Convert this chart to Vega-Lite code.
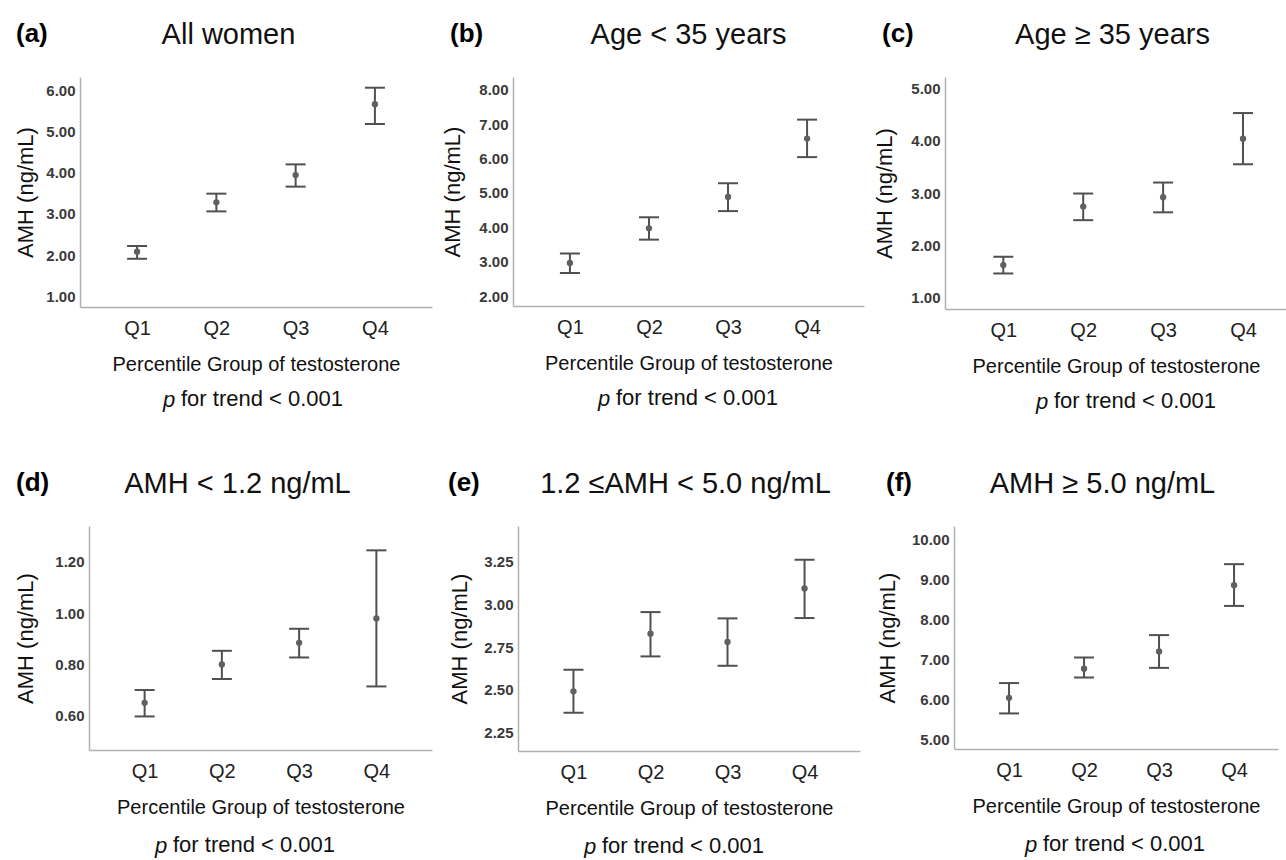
{
  "$schema": "https://vega.github.io/schema/vega-lite/v6.json",
  "background": "white",
  "padding": {"left": 14, "top": 20, "right": 0, "bottom": 0},
  "data": {"values": [
    {"panel": "a", "group": "Q1", "mean": 2.08, "lower": 1.91, "upper": 2.22},
    {"panel": "a", "group": "Q2", "mean": 3.28, "lower": 3.06, "upper": 3.49},
    {"panel": "a", "group": "Q3", "mean": 3.94, "lower": 3.66, "upper": 4.20},
    {"panel": "a", "group": "Q4", "mean": 5.66, "lower": 5.18, "upper": 6.06},
    {"panel": "b", "group": "Q1", "mean": 2.96, "lower": 2.67, "upper": 3.24},
    {"panel": "b", "group": "Q2", "mean": 3.97, "lower": 3.64, "upper": 4.29},
    {"panel": "b", "group": "Q3", "mean": 4.88, "lower": 4.47, "upper": 5.28},
    {"panel": "b", "group": "Q4", "mean": 6.58, "lower": 6.04, "upper": 7.13},
    {"panel": "c", "group": "Q1", "mean": 1.62, "lower": 1.46, "upper": 1.78},
    {"panel": "c", "group": "Q2", "mean": 2.74, "lower": 2.48, "upper": 2.99},
    {"panel": "c", "group": "Q3", "mean": 2.92, "lower": 2.63, "upper": 3.20},
    {"panel": "c", "group": "Q4", "mean": 4.04, "lower": 3.55, "upper": 4.53},
    {"panel": "d", "group": "Q1", "mean": 0.65, "lower": 0.597, "upper": 0.70},
    {"panel": "d", "group": "Q2", "mean": 0.80, "lower": 0.743, "upper": 0.853},
    {"panel": "d", "group": "Q3", "mean": 0.884, "lower": 0.827, "upper": 0.939},
    {"panel": "d", "group": "Q4", "mean": 0.979, "lower": 0.714, "upper": 1.245},
    {"panel": "e", "group": "Q1", "mean": 2.49, "lower": 2.365, "upper": 2.617},
    {"panel": "e", "group": "Q2", "mean": 2.828, "lower": 2.695, "upper": 2.955},
    {"panel": "e", "group": "Q3", "mean": 2.78, "lower": 2.64, "upper": 2.918},
    {"panel": "e", "group": "Q4", "mean": 3.094, "lower": 2.92, "upper": 3.262},
    {"panel": "f", "group": "Q1", "mean": 6.03, "lower": 5.64, "upper": 6.40},
    {"panel": "f", "group": "Q2", "mean": 6.76, "lower": 6.54, "upper": 7.04},
    {"panel": "f", "group": "Q3", "mean": 7.19, "lower": 6.78, "upper": 7.60},
    {"panel": "f", "group": "Q4", "mean": 8.85, "lower": 8.33, "upper": 9.375}
  ]},
  "center": true,
  "spacing": 56,
  "vconcat": [
    {
      "spacing": 9,
      "hconcat": [
        {
          "title": {"text": "(a)", "anchor": "start", "frame": "bounds", "orient": "top", "offset": -27, "dx": 2, "fontSize": 26, "fontWeight": "bold", "color": "#000"},
          "vconcat": [{
            "title": {"text": "for trend < 0.001", "orient": "bottom", "anchor": "start", "frame": "bounds", "offset": -22, "dx": 167, "fontSize": 22, "fontWeight": "normal", "color": "#111"},
            "vconcat": [{
              "width": 352, "height": 230,
              "transform": [{"filter": "datum.panel === 'a'"}],
              "title": {"text": "p", "orient": "bottom", "anchor": "start", "frame": "group", "dx": 83, "offset": 16, "fontSize": 22, "fontStyle": "italic", "fontWeight": "normal", "color": "#111"},
              "resolve": {"axis": {"x": "independent"}},
              "layer": [
                {"mark": {"type": "rule", "color": "#505050", "strokeWidth": 2},
                 "encoding": {
                   "x": {"field": "group", "type": "ordinal", "scale": {"type": "point", "padding": 0.72}, "axis": {"orient": "bottom", "title": "Percentile Group of testosterone"}},
                   "y": {"field": "lower", "type": "quantitative", "title": "AMH (ng/mL)", "scale": {"domain": [0.74, 6.32], "nice": false, "zero": false}, "axis": {"values": [1, 2, 3, 4, 5, 6], "format": ".2f", "titlePadding": 9, "labelOverlap": false}},
                   "y2": {"field": "upper"}}},
                {"mark": {"type": "tick", "orient": "horizontal", "size": 20, "thickness": 2, "color": "#505050", "opacity": 1},
                 "encoding": {"x": {"field": "group", "type": "ordinal", "axis": null}, "y": {"field": "lower", "type": "quantitative", "title": "AMH (ng/mL)", "axis": {"values": [1, 2, 3, 4, 5, 6], "format": ".2f", "titlePadding": 9, "labelOverlap": false}}}},
                {"mark": {"type": "tick", "orient": "horizontal", "size": 20, "thickness": 2, "color": "#505050", "opacity": 1},
                 "encoding": {"x": {"field": "group", "type": "ordinal", "axis": null}, "y": {"field": "upper", "type": "quantitative", "title": "AMH (ng/mL)", "axis": {"values": [1, 2, 3, 4, 5, 6], "format": ".2f", "titlePadding": 9, "labelOverlap": false}}}},
                {"mark": {"type": "point", "filled": true, "size": 40, "color": "#606060", "opacity": 1},
                 "encoding": {"x": {"field": "group", "type": "ordinal", "axis": null}, "y": {"field": "mean", "type": "quantitative", "title": "AMH (ng/mL)", "axis": {"values": [1, 2, 3, 4, 5, 6], "format": ".2f", "titlePadding": 9, "labelOverlap": false}}}},
                {"mark": {"type": "rule", "opacity": 0},
                 "encoding": {"x": {"field": "group", "type": "ordinal", "axis": {"orient": "top", "title": "All women", "labels": false, "domain": false, "ticks": false, "titleFontSize": 29, "titlePadding": 28, "minExtent": 0, "maxExtent": 0, "titleX": 148}}}}
              ]
            }]
          }]
        },
        {
          "title": {"text": "(b)", "anchor": "start", "frame": "bounds", "orient": "top", "offset": -27, "dx": 9, "fontSize": 26, "fontWeight": "bold", "color": "#000"},
          "vconcat": [{
            "title": {"text": "for trend < 0.001", "orient": "bottom", "anchor": "start", "frame": "bounds", "offset": -22, "dx": 175, "fontSize": 22, "fontWeight": "normal", "color": "#111"},
            "vconcat": [{
              "width": 351, "height": 229,
              "transform": [{"filter": "datum.panel === 'b'"}],
              "title": {"text": "p", "orient": "bottom", "anchor": "start", "frame": "group", "dx": 85, "offset": 16, "fontSize": 22, "fontStyle": "italic", "fontWeight": "normal", "color": "#111"},
              "resolve": {"axis": {"x": "independent"}},
              "layer": [
                {"mark": {"type": "rule", "color": "#505050", "strokeWidth": 2},
                 "encoding": {
                   "x": {"field": "group", "type": "ordinal", "scale": {"type": "point", "padding": 0.72}, "axis": {"orient": "bottom", "title": "Percentile Group of testosterone"}},
                   "y": {"field": "lower", "type": "quantitative", "title": "AMH (ng/mL)", "scale": {"domain": [1.71, 8.37], "nice": false, "zero": false}, "axis": {"values": [2, 3, 4, 5, 6, 7, 8], "format": ".2f", "titlePadding": 15, "labelOverlap": false}},
                   "y2": {"field": "upper"}}},
                {"mark": {"type": "tick", "orient": "horizontal", "size": 20, "thickness": 2, "color": "#505050", "opacity": 1},
                 "encoding": {"x": {"field": "group", "type": "ordinal", "axis": null}, "y": {"field": "lower", "type": "quantitative", "title": "AMH (ng/mL)", "axis": {"values": [2, 3, 4, 5, 6, 7, 8], "format": ".2f", "titlePadding": 15, "labelOverlap": false}}}},
                {"mark": {"type": "tick", "orient": "horizontal", "size": 20, "thickness": 2, "color": "#505050", "opacity": 1},
                 "encoding": {"x": {"field": "group", "type": "ordinal", "axis": null}, "y": {"field": "upper", "type": "quantitative", "title": "AMH (ng/mL)", "axis": {"values": [2, 3, 4, 5, 6, 7, 8], "format": ".2f", "titlePadding": 15, "labelOverlap": false}}}},
                {"mark": {"type": "point", "filled": true, "size": 40, "color": "#606060", "opacity": 1},
                 "encoding": {"x": {"field": "group", "type": "ordinal", "axis": null}, "y": {"field": "mean", "type": "quantitative", "title": "AMH (ng/mL)", "axis": {"values": [2, 3, 4, 5, 6, 7, 8], "format": ".2f", "titlePadding": 15, "labelOverlap": false}}}},
                {"mark": {"type": "rule", "opacity": 0},
                 "encoding": {"x": {"field": "group", "type": "ordinal", "axis": {"orient": "top", "title": "Age < 35 years", "labels": false, "domain": false, "ticks": false, "titleFontSize": 29, "titlePadding": 28, "minExtent": 0, "maxExtent": 0, "titleX": 175}}}}
              ]
            }]
          }]
        },
        {
          "title": {"text": "(c)", "anchor": "start", "frame": "bounds", "orient": "top", "offset": -27, "dx": 9, "fontSize": 26, "fontWeight": "bold", "color": "#000"},
          "vconcat": [{
            "title": {"text": "for trend < 0.001", "orient": "bottom", "anchor": "start", "frame": "bounds", "offset": -22, "dx": 181, "fontSize": 22, "fontWeight": "normal", "color": "#111"},
            "vconcat": [{
              "width": 342, "height": 232,
              "transform": [{"filter": "datum.panel === 'c'"}],
              "title": {"text": "p", "orient": "bottom", "anchor": "start", "frame": "group", "dx": 91, "offset": 16, "fontSize": 22, "fontStyle": "italic", "fontWeight": "normal", "color": "#111"},
              "resolve": {"axis": {"x": "independent"}},
              "layer": [
                {"mark": {"type": "rule", "color": "#505050", "strokeWidth": 2},
                 "encoding": {
                   "x": {"field": "group", "type": "ordinal", "scale": {"type": "point", "padding": 0.64, "align": 0.57}, "axis": {"orient": "bottom", "title": "Percentile Group of testosterone"}},
                   "y": {"field": "lower", "type": "quantitative", "title": "AMH (ng/mL)", "scale": {"domain": [0.78, 5.22], "nice": false, "zero": false}, "axis": {"values": [1, 2, 3, 4, 5], "format": ".2f", "titlePadding": 15, "labelOverlap": false}},
                   "y2": {"field": "upper"}}},
                {"mark": {"type": "tick", "orient": "horizontal", "size": 20, "thickness": 2, "color": "#505050", "opacity": 1},
                 "encoding": {"x": {"field": "group", "type": "ordinal", "axis": null}, "y": {"field": "lower", "type": "quantitative", "title": "AMH (ng/mL)", "axis": {"values": [1, 2, 3, 4, 5], "format": ".2f", "titlePadding": 15, "labelOverlap": false}}}},
                {"mark": {"type": "tick", "orient": "horizontal", "size": 20, "thickness": 2, "color": "#505050", "opacity": 1},
                 "encoding": {"x": {"field": "group", "type": "ordinal", "axis": null}, "y": {"field": "upper", "type": "quantitative", "title": "AMH (ng/mL)", "axis": {"values": [1, 2, 3, 4, 5], "format": ".2f", "titlePadding": 15, "labelOverlap": false}}}},
                {"mark": {"type": "point", "filled": true, "size": 40, "color": "#606060", "opacity": 1},
                 "encoding": {"x": {"field": "group", "type": "ordinal", "axis": null}, "y": {"field": "mean", "type": "quantitative", "title": "AMH (ng/mL)", "axis": {"values": [1, 2, 3, 4, 5], "format": ".2f", "titlePadding": 15, "labelOverlap": false}}}},
                {"mark": {"type": "rule", "opacity": 0},
                 "encoding": {"x": {"field": "group", "type": "ordinal", "axis": {"orient": "top", "title": "Age ≥ 35 years", "labels": false, "domain": false, "ticks": false, "titleFontSize": 29, "titlePadding": 28, "minExtent": 0, "maxExtent": 0, "titleX": 167}}}}
              ]
            }]
          }]
        }
      ]
    },
    {
      "spacing": 16,
      "hconcat": [
        {
          "title": {"text": "(d)", "anchor": "start", "frame": "bounds", "orient": "top", "offset": -27, "dx": 2, "fontSize": 26, "fontWeight": "bold", "color": "#000"},
          "vconcat": [{
            "title": {"text": "for trend < 0.001", "orient": "bottom", "anchor": "start", "frame": "bounds", "offset": -22, "dx": 159, "fontSize": 22, "fontWeight": "normal", "color": "#111"},
            "vconcat": [{
              "width": 343, "height": 224,
              "transform": [{"filter": "datum.panel === 'd'"}],
              "title": {"text": "p", "orient": "bottom", "anchor": "start", "frame": "group", "dx": 66, "offset": 19, "fontSize": 22, "fontStyle": "italic", "fontWeight": "normal", "color": "#111"},
              "resolve": {"axis": {"x": "independent"}},
              "layer": [
                {"mark": {"type": "rule", "color": "#505050", "strokeWidth": 2},
                 "encoding": {
                   "x": {"field": "group", "type": "ordinal", "scale": {"type": "point", "padding": 0.72}, "axis": {"orient": "bottom", "title": "Percentile Group of testosterone"}},
                   "y": {"field": "lower", "type": "quantitative", "title": "AMH (ng/mL)", "scale": {"domain": [0.466, 1.34], "nice": false, "zero": false}, "axis": {"values": [0.6, 0.8, 1.0, 1.2], "format": ".2f", "titlePadding": 18, "labelOverlap": false}},
                   "y2": {"field": "upper"}}},
                {"mark": {"type": "tick", "orient": "horizontal", "size": 20, "thickness": 2, "color": "#505050", "opacity": 1},
                 "encoding": {"x": {"field": "group", "type": "ordinal", "axis": null}, "y": {"field": "lower", "type": "quantitative", "title": "AMH (ng/mL)", "axis": {"values": [0.6, 0.8, 1.0, 1.2], "format": ".2f", "titlePadding": 18, "labelOverlap": false}}}},
                {"mark": {"type": "tick", "orient": "horizontal", "size": 20, "thickness": 2, "color": "#505050", "opacity": 1},
                 "encoding": {"x": {"field": "group", "type": "ordinal", "axis": null}, "y": {"field": "upper", "type": "quantitative", "title": "AMH (ng/mL)", "axis": {"values": [0.6, 0.8, 1.0, 1.2], "format": ".2f", "titlePadding": 18, "labelOverlap": false}}}},
                {"mark": {"type": "point", "filled": true, "size": 40, "color": "#606060", "opacity": 1},
                 "encoding": {"x": {"field": "group", "type": "ordinal", "axis": null}, "y": {"field": "mean", "type": "quantitative", "title": "AMH (ng/mL)", "axis": {"values": [0.6, 0.8, 1.0, 1.2], "format": ".2f", "titlePadding": 18, "labelOverlap": false}}}},
                {"mark": {"type": "rule", "opacity": 0},
                 "encoding": {"x": {"field": "group", "type": "ordinal", "axis": {"orient": "top", "title": "AMH < 1.2 ng/mL", "labels": false, "domain": false, "ticks": false, "titleFontSize": 29, "titlePadding": 28, "minExtent": 0, "maxExtent": 0, "titleX": 148}}}}
              ]
            }]
          }]
        },
        {
          "title": {"text": "(e)", "anchor": "start", "frame": "bounds", "orient": "top", "offset": -27, "dx": 0, "fontSize": 26, "fontWeight": "bold", "color": "#000"},
          "vconcat": [{
            "title": {"text": "for trend < 0.001", "orient": "bottom", "anchor": "start", "frame": "bounds", "offset": -22, "dx": 154, "fontSize": 22, "fontWeight": "normal", "color": "#111"},
            "vconcat": [{
              "width": 342, "height": 225,
              "transform": [{"filter": "datum.panel === 'e'"}],
              "title": {"text": "p", "orient": "bottom", "anchor": "start", "frame": "group", "dx": 66, "offset": 19, "fontSize": 22, "fontStyle": "italic", "fontWeight": "normal", "color": "#111"},
              "resolve": {"axis": {"x": "independent"}},
              "layer": [
                {"mark": {"type": "rule", "color": "#505050", "strokeWidth": 2},
                 "encoding": {
                   "x": {"field": "group", "type": "ordinal", "scale": {"type": "point", "padding": 0.72}, "axis": {"orient": "bottom", "title": "Percentile Group of testosterone"}},
                   "y": {"field": "lower", "type": "quantitative", "title": "AMH (ng/mL)", "scale": {"domain": [2.14, 3.46], "nice": false, "zero": false}, "axis": {"values": [2.25, 2.5, 2.75, 3.0, 3.25], "format": ".2f", "titlePadding": 13, "labelOverlap": false}},
                   "y2": {"field": "upper"}}},
                {"mark": {"type": "tick", "orient": "horizontal", "size": 20, "thickness": 2, "color": "#505050", "opacity": 1},
                 "encoding": {"x": {"field": "group", "type": "ordinal", "axis": null}, "y": {"field": "lower", "type": "quantitative", "title": "AMH (ng/mL)", "axis": {"values": [2.25, 2.5, 2.75, 3.0, 3.25], "format": ".2f", "titlePadding": 13, "labelOverlap": false}}}},
                {"mark": {"type": "tick", "orient": "horizontal", "size": 20, "thickness": 2, "color": "#505050", "opacity": 1},
                 "encoding": {"x": {"field": "group", "type": "ordinal", "axis": null}, "y": {"field": "upper", "type": "quantitative", "title": "AMH (ng/mL)", "axis": {"values": [2.25, 2.5, 2.75, 3.0, 3.25], "format": ".2f", "titlePadding": 13, "labelOverlap": false}}}},
                {"mark": {"type": "point", "filled": true, "size": 40, "color": "#606060", "opacity": 1},
                 "encoding": {"x": {"field": "group", "type": "ordinal", "axis": null}, "y": {"field": "mean", "type": "quantitative", "title": "AMH (ng/mL)", "axis": {"values": [2.25, 2.5, 2.75, 3.0, 3.25], "format": ".2f", "titlePadding": 13, "labelOverlap": false}}}},
                {"mark": {"type": "rule", "opacity": 0},
                 "encoding": {"x": {"field": "group", "type": "ordinal", "axis": {"orient": "top", "title": "1.2 ≤AMH < 5.0 ng/mL", "labels": false, "domain": false, "ticks": false, "titleFontSize": 29, "titlePadding": 28, "minExtent": 0, "maxExtent": 0, "titleX": 167}}}}
              ]
            }]
          }]
        },
        {
          "title": {"text": "(f)", "anchor": "start", "frame": "bounds", "orient": "top", "offset": -27, "dx": 10, "fontSize": 26, "fontWeight": "bold", "color": "#000"},
          "vconcat": [{
            "title": {"text": "for trend < 0.001", "orient": "bottom", "anchor": "start", "frame": "bounds", "offset": -22, "dx": 167, "fontSize": 22, "fontWeight": "normal", "color": "#111"},
            "vconcat": [{
              "width": 324, "height": 223,
              "transform": [{"filter": "datum.panel === 'f'"}],
              "title": {"text": "p", "orient": "bottom", "anchor": "start", "frame": "group", "dx": 71, "offset": 19, "fontSize": 22, "fontStyle": "italic", "fontWeight": "normal", "color": "#111"},
              "resolve": {"axis": {"x": "independent"}},
              "layer": [
                {"mark": {"type": "rule", "color": "#505050", "strokeWidth": 2},
                 "encoding": {
                   "x": {"field": "group", "type": "ordinal", "scale": {"type": "point", "padding": 0.66, "align": 0.556}, "axis": {"orient": "bottom", "title": "Percentile Group of testosterone"}},
                   "y": {"field": "lower", "type": "quantitative", "title": "AMH (ng/mL)", "scale": {"domain": [4.75, 10.33], "nice": false, "zero": false}, "axis": {"values": [5, 6, 7, 8, 9, 10], "format": ".2f", "titlePadding": 11, "minExtent": 44, "maxExtent": 44, "labelOverlap": false}},
                   "y2": {"field": "upper"}}},
                {"mark": {"type": "tick", "orient": "horizontal", "size": 20, "thickness": 2, "color": "#505050", "opacity": 1},
                 "encoding": {"x": {"field": "group", "type": "ordinal", "axis": null}, "y": {"field": "lower", "type": "quantitative", "title": "AMH (ng/mL)", "axis": {"values": [5, 6, 7, 8, 9, 10], "format": ".2f", "titlePadding": 11, "minExtent": 44, "maxExtent": 44, "labelOverlap": false}}}},
                {"mark": {"type": "tick", "orient": "horizontal", "size": 20, "thickness": 2, "color": "#505050", "opacity": 1},
                 "encoding": {"x": {"field": "group", "type": "ordinal", "axis": null}, "y": {"field": "upper", "type": "quantitative", "title": "AMH (ng/mL)", "axis": {"values": [5, 6, 7, 8, 9, 10], "format": ".2f", "titlePadding": 11, "minExtent": 44, "maxExtent": 44, "labelOverlap": false}}}},
                {"mark": {"type": "point", "filled": true, "size": 40, "color": "#606060", "opacity": 1},
                 "encoding": {"x": {"field": "group", "type": "ordinal", "axis": null}, "y": {"field": "mean", "type": "quantitative", "title": "AMH (ng/mL)", "axis": {"values": [5, 6, 7, 8, 9, 10], "format": ".2f", "titlePadding": 11, "minExtent": 44, "maxExtent": 44, "labelOverlap": false}}}},
                {"mark": {"type": "rule", "opacity": 0},
                 "encoding": {"x": {"field": "group", "type": "ordinal", "axis": {"orient": "top", "title": "AMH ≥ 5.0 ng/mL", "labels": false, "domain": false, "ticks": false, "titleFontSize": 29, "titlePadding": 28, "minExtent": 0, "maxExtent": 0, "titleX": 148}}}}
              ]
            }]
          }]
        }
      ]
    }
  ],
  "config": {
    "font": "Liberation Sans",
    "view": {"stroke": null},
    "axis": {"grid": false, "ticks": false, "domainColor": "#b0b0b0", "domainWidth": 1.5, "titleFontWeight": "normal", "titleColor": "#111", "labelColor": "#222"},
    "axisY": {"labelFontSize": 15, "labelFontWeight": "bold", "labelColor": "#3a3a3a", "labelPadding": 5, "labelOverlap": false, "labelFlush": false, "titleFontSize": 22, "minExtent": 34, "maxExtent": 34},
    "axisX": {"labelFontSize": 20, "labelPadding": 11, "labelAngle": 0, "titleFontSize": 20, "titlePadding": 16}
  }
}
